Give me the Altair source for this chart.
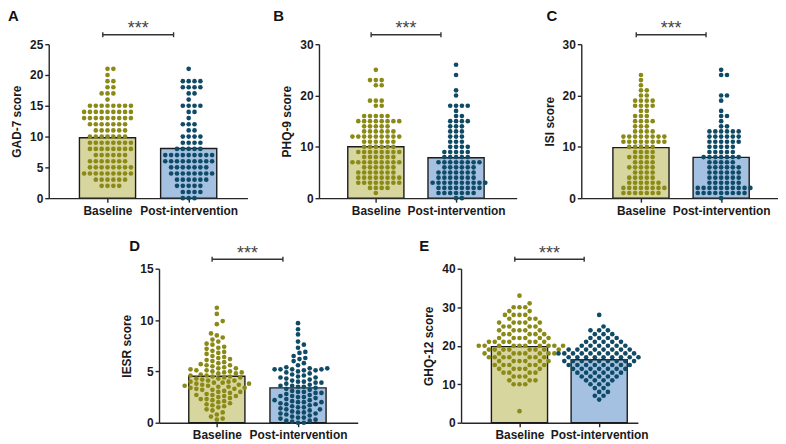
import altair as alt
import numpy as np
import pandas as pd

GROUPS = ["Baseline", "Post-intervention"]
BAR_FILLS = ["#d7d69f", "#a5c1e1"]
DOT_COLORS = ["#8b8a16", "#0f4b66"]
FONT = "Liberation Sans"

# ---- A: GAD-7 (score -> number of participants) ----
GAD7_BASE_SCORES = [2, 3, 4, 5, 6, 7, 8, 9, 10, 11, 12, 13, 14, 15, 16, 17, 18, 19, 20, 21]
GAD7_BASE_COUNTS = [4, 6, 9, 8, 7, 6, 8, 8, 7, 6, 7, 9, 9, 8, 1, 3, 2, 2, 1, 2]
GAD7_POST_SCORES = [0, 1, 2, 3, 4, 5, 6, 7, 8, 9, 10, 11, 12, 13, 14, 15, 16, 17, 18, 19, 21]
GAD7_POST_COUNTS = [3, 4, 5, 6, 8, 7, 9, 9, 5, 4, 4, 2, 3, 1, 2, 4, 1, 2, 4, 4, 1]

# ---- B: PHQ-9 ----
PHQ9_BASE_SCORES = [1, 2, 3, 4, 5, 6, 7, 8, 9, 10, 11, 12, 13, 14, 15, 16, 18, 19, 22, 23, 25]
PHQ9_BASE_COUNTS = [1, 4, 8, 8, 7, 6, 9, 6, 8, 6, 6, 9, 6, 5, 8, 5, 2, 3, 2, 3, 1]
PHQ9_POST_SCORES = [0, 1, 2, 3, 4, 5, 6, 7, 8, 9, 10, 11, 12, 13, 14, 15, 16, 17, 18, 20, 21, 24, 26]
PHQ9_POST_COUNTS = [2, 7, 8, 10, 7, 7, 6, 8, 5, 5, 4, 3, 3, 3, 3, 4, 2, 1, 4, 1, 1, 1, 1]

# ---- C: ISI ----
ISI_BASE_SCORES = [1, 2, 3, 4, 5, 6, 7, 8, 9, 10, 11, 12, 13, 14, 15, 16, 17, 18, 19, 20, 21, 22, 23, 24]
ISI_BASE_COUNTS = [7, 8, 6, 5, 4, 5, 4, 5, 4, 5, 8, 8, 4, 3, 4, 3, 2, 4, 4, 2, 2, 1, 1, 1]
ISI_POST_SCORES = [0, 1, 2, 3, 4, 5, 6, 7, 8, 9, 10, 11, 12, 13, 14, 15, 16, 17, 19, 20, 24, 25]
ISI_POST_COUNTS = [1, 9, 10, 6, 6, 6, 6, 5, 7, 5, 5, 6, 6, 6, 2, 1, 2, 1, 1, 2, 2, 1]

# ---- D: IESR (mean item scores, individual values) ----
IESR_BASE = [11.2, 10.6, 9.9, 9.6, 8.7, 8.5, 8.3, 8.1, 7.9, 7.7, 7.6, 7.4, 7.3, 7.2, 7.0, 6.9,
             6.8, 6.7, 6.5, 6.4, 6.3, 6.2, 6.1, 6.0, 5.9, 5.8, 5.7, 5.6, 5.6, 5.5, 5.4, 5.3,
             5.3, 5.2, 5.1, 5.1, 5.0, 5.0, 4.9, 4.9, 4.8, 4.8, 4.7, 4.6, 4.6, 4.5, 4.5, 4.4,
             4.4, 4.3, 4.3, 4.2, 4.1, 4.1, 4.0, 4.0, 3.9, 3.9, 3.8, 3.8, 3.7, 3.7, 3.6, 3.6,
             3.5, 3.5, 3.4, 3.4, 3.3, 3.3, 3.2, 3.2, 3.1, 3.0, 3.0, 2.9, 2.8, 2.7, 2.7, 2.6,
             2.6, 2.5, 2.4, 2.3, 2.3, 2.2, 2.1, 2.0, 1.9, 1.8, 1.7, 1.6, 1.5, 1.3, 1.2, 1.0,
             0.8, 0.6, 0.4, 0.3]
IESR_POST = [9.7, 9.1, 8.6, 7.9, 7.6, 7.3, 6.9, 6.8, 6.5, 6.3, 6.2, 6.0, 5.8, 5.6, 5.4, 5.3,
             5.3, 5.2, 5.2, 5.2, 5.2, 5.1, 5.1, 5.0, 4.9, 4.8, 4.7, 4.6, 4.5, 4.4, 4.4, 4.3,
             4.2, 4.1, 4.0, 4.0, 3.9, 3.9, 3.8, 3.7, 3.6, 3.6, 3.5, 3.5, 3.4, 3.3, 3.2, 3.1,
             3.0, 3.0, 2.9, 2.9, 2.8, 2.7, 2.6, 2.6, 2.5, 2.5, 2.4, 2.3, 2.2, 2.2, 2.1, 2.0,
             2.0, 2.0, 1.9, 1.8, 1.8, 1.7, 1.6, 1.5, 1.5, 1.4, 1.3, 1.3, 1.2, 1.1, 1.0, 1.0,
             0.9, 0.9, 0.8, 0.7, 0.6, 0.5, 0.5, 0.4, 0.3, 0.2, 0.2, 0.1, 0.0, 0.0]

# ---- E: GHQ-12 ----
GHQ_BASE_SCORES = [3, 10, 11, 12, 13, 14, 15, 16, 17, 18, 19, 20, 21, 22, 23, 24, 25, 26, 27, 28, 29, 30, 31, 33]
GHQ_BASE_COUNTS = [1, 3, 3, 3, 4, 5, 6, 6, 7, 8, 8, 10, 7, 6, 5, 5, 4, 5, 3, 4, 2, 3, 1, 1]
GHQ_POST_SCORES = [6, 7, 8, 9, 10, 11, 12, 13, 14, 15, 16, 17, 18, 19, 20, 21, 22, 23, 24, 25, 28]
GHQ_POST_COUNTS = [1, 2, 2, 2, 3, 4, 5, 6, 7, 8, 9, 9, 10, 8, 6, 5, 4, 3, 3, 1, 1]

SIG_LABEL = "***"

H = 155      # plot height (px)
BW = 56.5    # bar width (px)


def expand(scores, counts):
    out = []
    for s, c in zip(scores, counts):
        out += [s] * c
    return out


def swarm(vals, ppu, dx=6.2, dy=5.0, step=1.55):
    """Beeswarm layout: horizontal pixel offsets so dots don't overlap."""
    vals = np.asarray(vals, float)
    order = np.argsort(vals, kind="stable")
    py, px = [], []
    offs = np.zeros(len(vals))
    cands = [0.0]
    for k in range(1, 80):
        cands += [k * step, -k * step]
    for i in order:
        y = vals[i] * ppu
        if py:
            a_y = np.array(py)
            a_x = np.array(px)
            m = np.abs(a_y - y) < dy
            ny, nx = a_y[m], a_x[m]
        else:
            ny = nx = np.array([])
        for c in cands:
            if len(ny) == 0 or np.all(((c - nx) / dx) ** 2 + ((y - ny) / dy) ** 2 >= 1 - 1e-9):
                offs[i] = c
                break
        py.append(y)
        px.append(offs[i])
    return offs


def make_panel(letter, base_vals, post_vals, ymax, yticks, ytitle, W, c1, c2, lx, ly):
    ppu = H / ymax
    s = c2 - c1                      # px between the two group centres
    recs = []
    for gi, (g, vals) in enumerate(zip(GROUPS, (base_vals, post_vals))):
        offs = swarm(vals, ppu)
        recs += [{"group": g, "pos": gi, "score": float(v), "xp": gi + float(o) / s}
                 for v, o in zip(vals, offs)]
    df = pd.DataFrame(recs)

    xscale = alt.Scale(domain=[-c1 / s, (W - c1) / s], nice=False, zero=False)
    xaxis = alt.Axis(values=[0, 1], labelExpr="datum.value == 0 ? 'Baseline' : 'Post-intervention'",
                     tickSize=4, tickWidth=1.4, domainWidth=1.4,
                     domainColor="#262626", tickColor="#262626", labelFont=FONT,
                     labelFontSize=12, labelFontWeight="bold", labelColor="#1a1a1a",
                     labelPadding=3, grid=False, labelFlush=False, labelOverlap=False)
    yscale = alt.Scale(domain=[0, ymax], nice=False, zero=True)
    yaxis = alt.Axis(values=yticks, tickSize=4, tickWidth=1.4, domainWidth=1.4,
                     domainColor="#262626", tickColor="#262626", labelFont=FONT,
                     labelFontSize=12, labelFontWeight="bold", labelColor="#1a1a1a",
                     labelPadding=2, titleFont=FONT, titleFontSize=12,
                     titleFontWeight="bold", titleColor="#1a1a1a", titlePadding=6, grid=False)

    def X(field):
        return alt.X(field, scale=xscale, axis=xaxis, title=None)

    def Y(field):
        return alt.Y(field, scale=yscale, axis=yaxis, title=ytitle)

    bars = alt.Chart(df).mark_bar(size=BW, stroke="#1c1c1c", strokeWidth=1.4).encode(
        x=X("pos:Q"), y=Y("mean(score):Q"),
        fill=alt.Fill("group:N", scale=alt.Scale(domain=GROUPS, range=BAR_FILLS), legend=None))
    sem = alt.Chart(df).transform_aggregate(
        m="mean(score)", se="stderr(score)", groupby=["pos"]
    ).transform_calculate(lo="datum.m - datum.se", hi="datum.m + datum.se")
    err = sem.mark_rule(color="#d2d2d2", strokeWidth=1).encode(x=X("pos:Q"), y=Y("lo:Q"), y2="hi:Q")
    errcap = sem.mark_tick(orient="horizontal", size=12, thickness=1, color="#d2d2d2").encode(
        x=X("pos:Q"), y=Y("hi:Q"))
    pts = alt.Chart(df).mark_circle(size=22, opacity=1).encode(
        x=X("xp:Q"), y=Y("score:Q"),
        color=alt.Color("group:N", scale=alt.Scale(domain=GROUPS, range=DOT_COLORS), legend=None))

    yb = ymax * (1 + 9.5 / H)
    cap = ymax * 2.5 / H
    br = pd.DataFrame({"bx": [0 - 5.0 / s, 1 - 16.0 / s], "y": [yb, yb],
                       "ylo": [yb - cap] * 2, "yhi": [yb + cap] * 2})
    line = alt.Chart(br).mark_line(color="#333333", strokeWidth=1.4).encode(x=X("bx:Q"), y=Y("y:Q"))
    caps = alt.Chart(br).mark_rule(color="#333333", strokeWidth=1.4).encode(
        x=X("bx:Q"), y=Y("ylo:Q"), y2="yhi:Q")
    st = pd.DataFrame({"sx": [0.5 - 10.5 / s], "ys": [ymax * (1 + 10 / H)], "lab": [SIG_LABEL]})
    stars = alt.Chart(st).mark_text(font=FONT, fontSize=18, color="#444444", baseline="alphabetic").encode(
        x=X("sx:Q"), y=Y("ys:Q"), text="lab:N")
    lt = alt.Chart(pd.DataFrame({"t": [letter]})).mark_text(
        font=FONT, fontSize=15, fontWeight="bold", color="#111111", align="left", baseline="top"
    ).encode(text="t:N", x=alt.value(lx), y=alt.value(ly))

    return alt.layer(bars, err, errcap, pts, line, caps, stars, lt).properties(width=W, height=H)


pA = make_panel("A", expand(GAD7_BASE_SCORES, GAD7_BASE_COUNTS), expand(GAD7_POST_SCORES, GAD7_POST_COUNTS),
                25, [0, 5, 10, 15, 20, 25], "GAD-7 score", 200, 57, 143, -41, -35)
pB = make_panel("B", expand(PHQ9_BASE_SCORES, PHQ9_BASE_COUNTS), expand(PHQ9_POST_SCORES, PHQ9_POST_COUNTS),
                30, [0, 10, 20, 30], "PHQ-9 score", 199, 55, 140, -46, -35)
pC = make_panel("C", expand(ISI_BASE_SCORES, ISI_BASE_COUNTS), expand(ISI_POST_SCORES, ISI_POST_COUNTS),
                30, [0, 10, 20, 30], "ISI score", 198, 58, 143, -35, -35)
pD = make_panel("D", IESR_BASE, IESR_POST,
                15, [0, 5, 10, 15], "IESR score", 200, 56, 142, -30, -30)
pE = make_panel("E", expand(GHQ_BASE_SCORES, GHQ_BASE_COUNTS), expand(GHQ_POST_SCORES, GHQ_POST_COUNTS),
                40, [0, 10, 20, 30, 40], "GHQ-12 score", 178, 57, 142, -42, -30)

spacer = alt.Chart(pd.DataFrame({"a": [0]})).mark_rect(opacity=0).encode(
    x=alt.value(0), x2=alt.value(10), y=alt.value(0), y2=alt.value(10)
).properties(width=10, height=10)

top = alt.hconcat(pA, pB, pC, spacing=26)
bottom = alt.hconcat(spacer, pD, pE, spacing=62)
chart = alt.vconcat(top, bottom, spacing=23).properties(
    padding=0, background="white"
).configure_view(stroke=None)

chart.save("out.html", embed_options={"renderer": "svg", "actions": False})
